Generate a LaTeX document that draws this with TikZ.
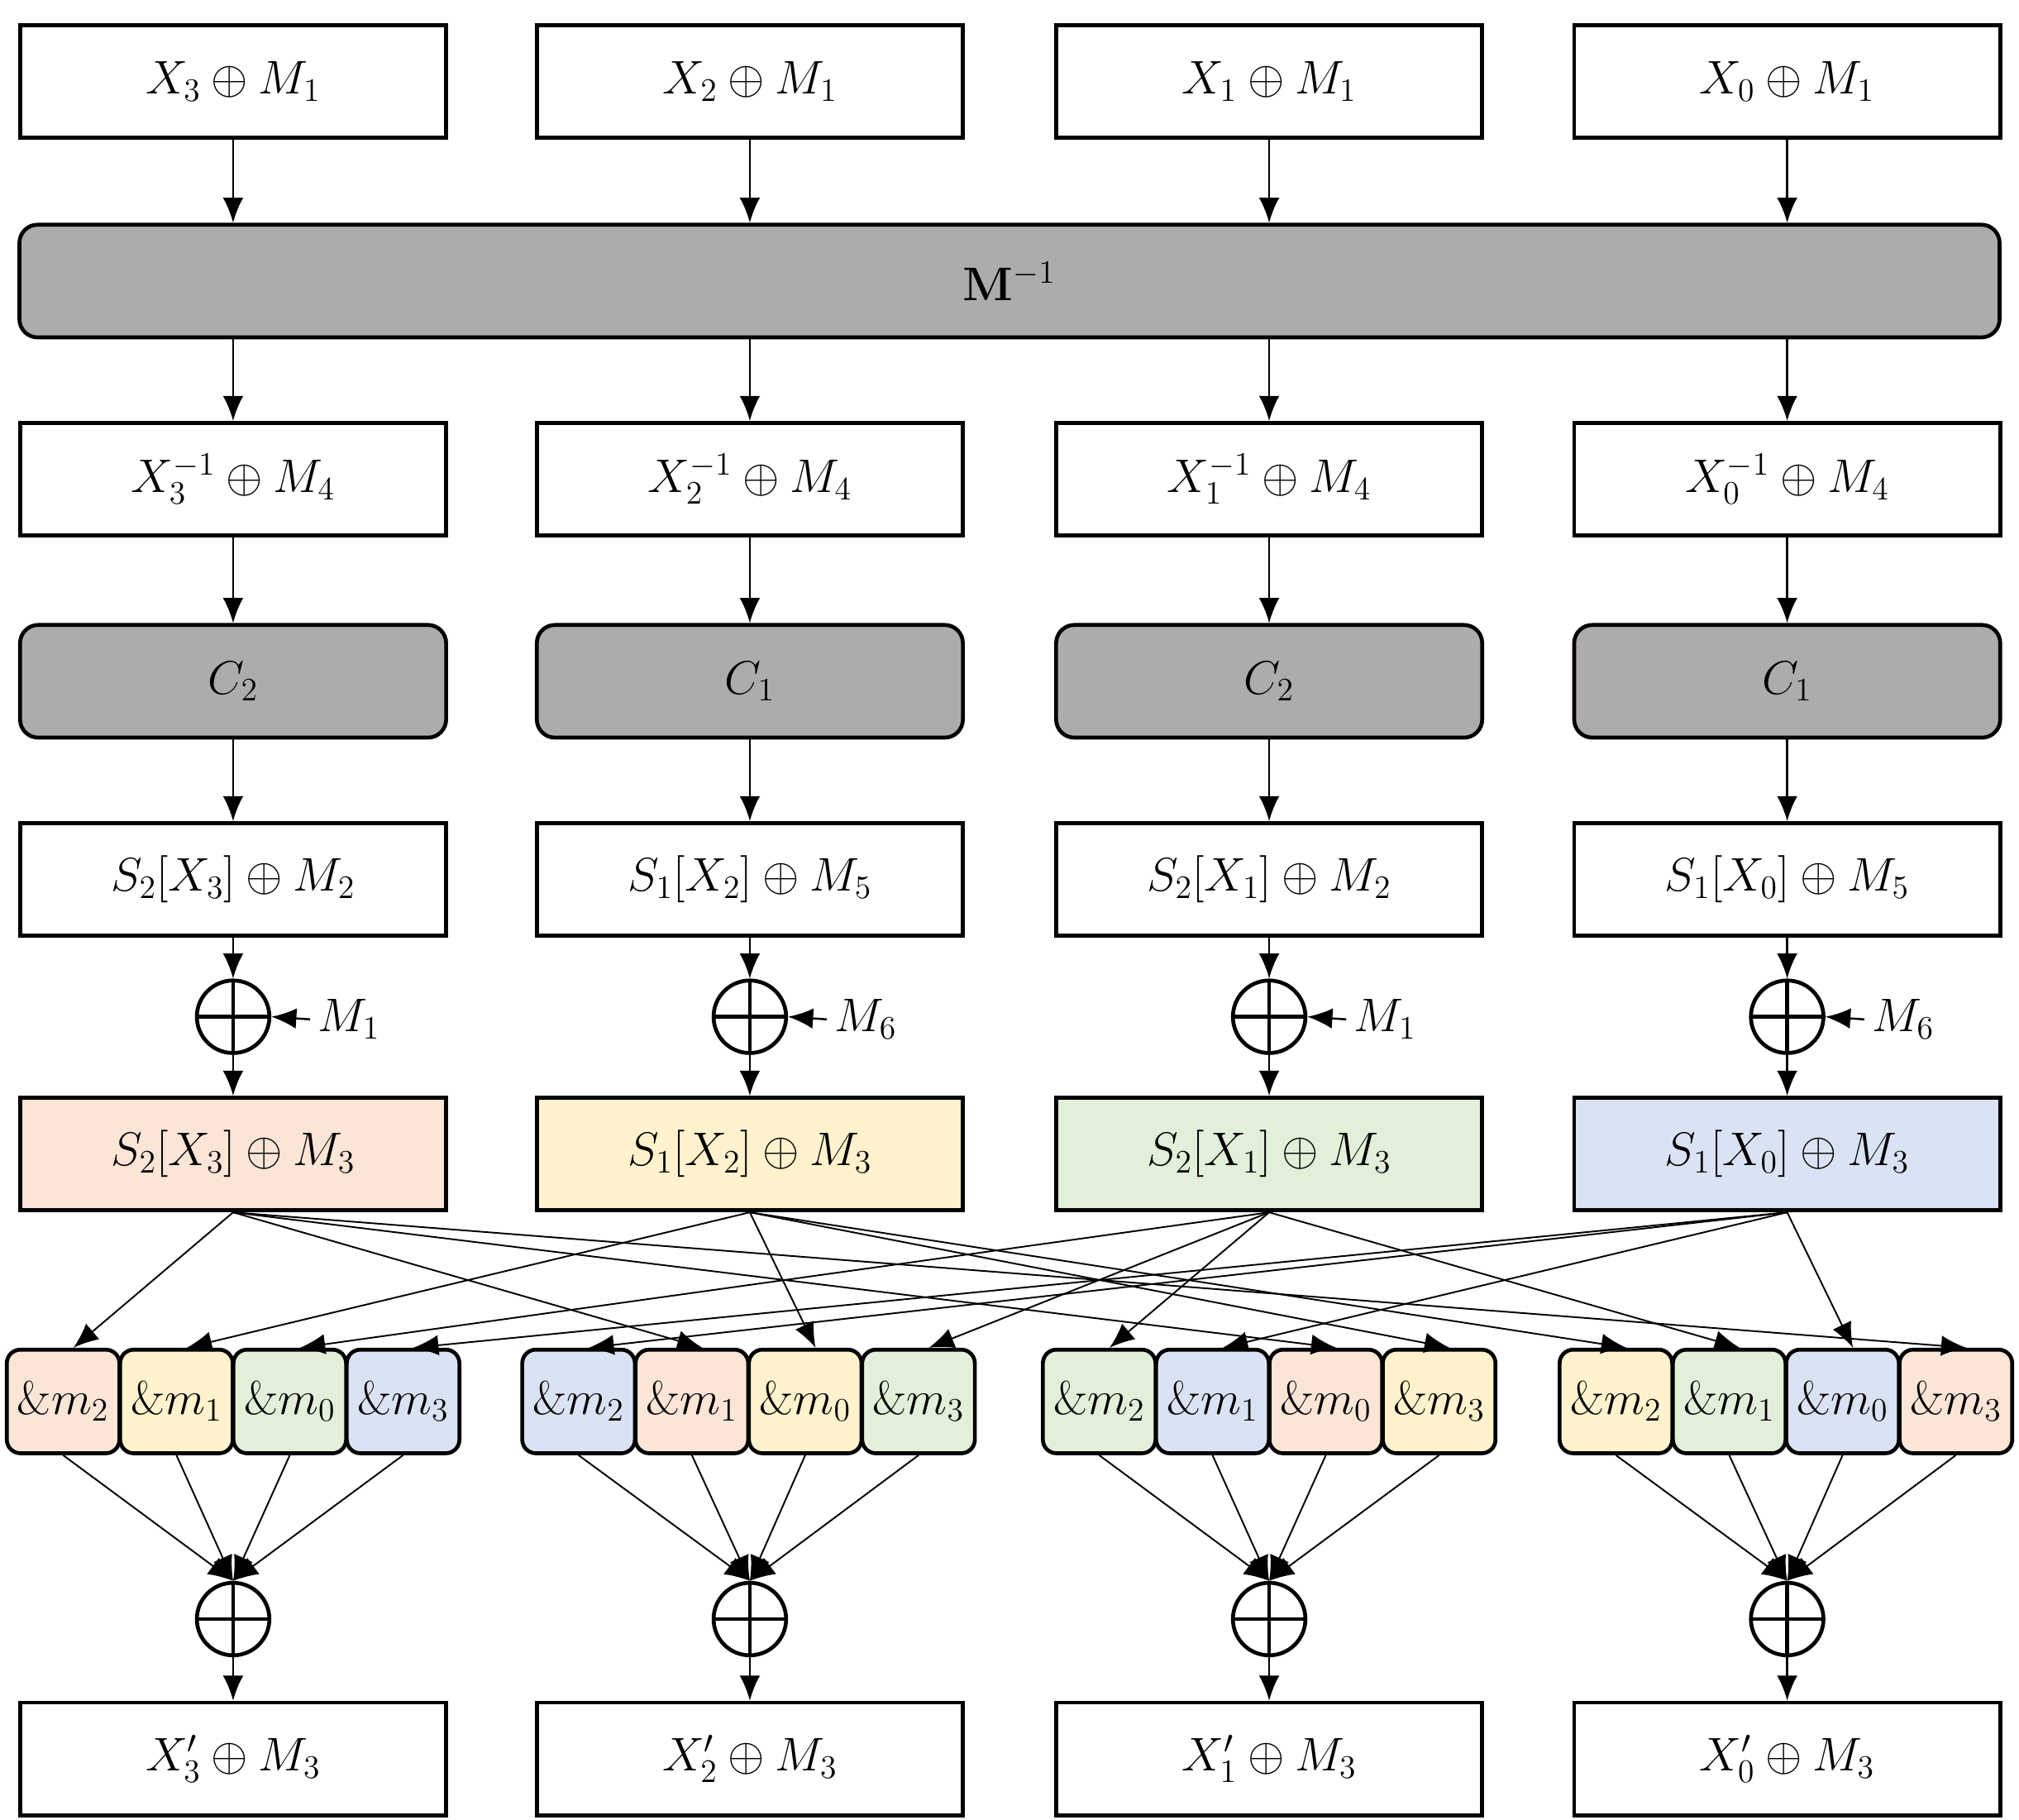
\documentclass[tikz,border=0pt]{standalone}
\usetikzlibrary{arrows.meta,calc}
\definecolor{cp}{HTML}{FBE5D6}
\definecolor{cy}{HTML}{FFF2CC}
\definecolor{cg}{HTML}{E2F0D9}
\definecolor{cb}{HTML}{DAE3F3}
\definecolor{gr}{HTML}{AEABAB}
\begin{document}
\begin{tikzpicture}[x=0.02cm,y=-0.02cm,
  box/.style={draw,line width=1.7pt,minimum width=329*0.02cm,minimum height=87*0.02cm,inner sep=0pt,font=\fontsize{22}{26}\selectfont},
  gbox/.style={box,fill=gr,rounded corners=8pt},
  sbox/.style={draw,line width=1.7pt,rounded corners=6pt,minimum width=87*0.02cm,minimum height=80*0.02cm,inner sep=0pt,font=\fontsize{21}{25}\selectfont},
  xo/.style={draw,circle,line width=1.7pt,minimum size=56*0.02cm,inner sep=0pt,path picture={\draw[line width=1.7pt] (path picture bounding box.north)--(path picture bounding box.south) (path picture bounding box.west)--(path picture bounding box.east);}},
  ar/.style={-{Latex[length=11pt,width=9pt]},line width=0.9pt},
  thin/.style={-{Latex[length=11pt,width=9pt]},line width=0.7pt}]
\useasboundingbox (0,0) rectangle (1559,1405);
\node[gbox,minimum width=1529*0.02cm] (M) at (779.5,217) {$\mathbf{M}^{-1}$};
\def\cols{{180,579,980,1380}}
\def\gst{{5,403,805,1204}}
\foreach \j/\i/\c/\cc/\m/\sm/\col in {0/3/2/2/1/2/cp,1/2/1/5/6/1/cy,2/1/2/2/1/2/cg,3/0/1/5/6/1/cb}{
  \pgfmathsetmacro{\x}{\cols[\j]}
  \node[box] (t\j) at (\x,63) {$X_{\i}\oplus M_1$};
  \node[box] (a\j) at (\x,370) {$X_{\i}^{-1}\oplus M_4$};
  \node[gbox] (c\j) at (\x,526) {$C_{\c}$};
  \node[box] (s\j) at (\x,679) {$S_{\sm}[X_{\i}]\oplus M_{\cc}$};
  \node[xo] (x\j) at (\x,785) {};
  \coordinate (ml\j) at ($(x\j.east)+(32,0)$);
  \node[anchor=west,font=\fontsize{22}{26}\selectfont] (lab\j) at ($(x\j.east)+(30,2)$) {$M_{\m}$};
  \node[box,fill=\col] (k\j) at (\x,891) {$S_{\sm}[X_{\i}]\oplus M_3$};
  \node[xo] (y\j) at (\x,1250) {};
  \node[box] (b\j) at (\x,1358) {$X_{\i}'\oplus M_3$};
  \draw[ar] (t\j.south) -- (t\j.south |- M.north);
  \draw[ar] (M.south -| a\j.north) -- (a\j.north);
  \draw[ar] (a\j) -- (c\j);
  \draw[ar] (c\j) -- (s\j);
  \draw[ar] (s\j) -- (x\j);
  \draw[ar] (x\j) -- (k\j);
  \draw[ar] (lab\j.west) -- (x\j.east);
  \draw[ar] (y\j) -- (b\j);
}
\foreach \g in {0,1,2,3}{
  \pgfmathsetmacro{\gx}{\gst[\g]}
  \foreach \p/\n in {0/2,1/1,2/0,3/3}{
    \pgfmathtruncatemacro{\jj}{mod(\p-\g+4,4)}
    \ifcase\jj \def\fc{cp}\or \def\fc{cy}\or \def\fc{cg}\or \def\fc{cb}\fi
    \node[sbox,fill=\fc] (m\g\p) at (\gx+43.75+87.5*\p,1082) {$\&m_{\n}$};
    \draw[thin] (m\g\p.south) -- (y\g.north);
  }
}
\foreach \j in {0,1,2,3}{
  \foreach \g in {0,1,2,3}{
    \pgfmathtruncatemacro{\pp}{mod(\j+\g,4)}
    \draw[thin] (k\j.south) -- ($(m\g\pp.north)+(8,0)$);
  }
}
\end{tikzpicture}
\end{document}
